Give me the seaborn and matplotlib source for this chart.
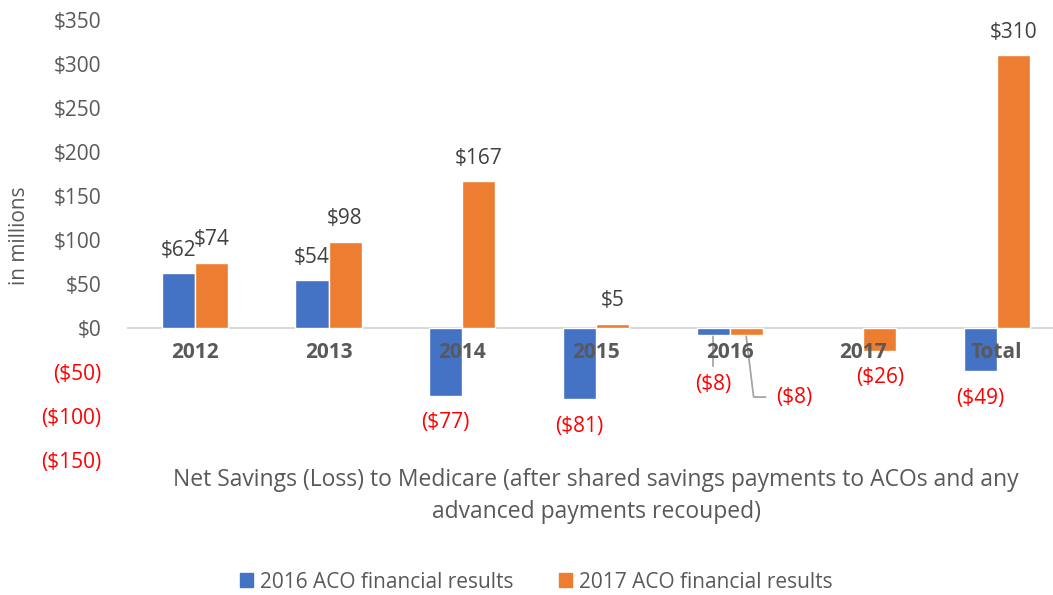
import matplotlib
matplotlib.use("Agg")
import matplotlib.pyplot as plt
import seaborn as sns
import pandas as pd
import numpy as np
from matplotlib.patches import Patch

categories = ["2012", "2013", "2014", "2015", "2016", "2017", "Total"]
series_names = ["2016 ACO financial results", "2017 ACO financial results"]
results_2016 = [62, 54, -77, -81, -8, np.nan, -49]
results_2017 = [74, 98, 167, 5, -8, -26, 310]
ytick_values = [-150, -100, -50, 0, 50, 100, 150, 200, 250, 300, 350]
ytick_labels = ["($150)", "($100)", "($50)", "$0", "$50", "$100", "$150",
                "$200", "$250", "$300", "$350"]
colors = ["#4472C4", "#ED7D31"]
xtitle = ("Net Savings (Loss) to Medicare (after shared savings payments to ACOs and any\n"
          "advanced payments recouped)")

sns.set_theme(style="white")
plt.rcParams["font.family"] = ["Open Sans", "DejaVu Sans"]

FS = 15

df = pd.DataFrame({
    "category": categories * 2,
    "series": [series_names[0]] * len(categories) + [series_names[1]] * len(categories),
    "value": results_2016 + results_2017,
})

fig = plt.figure(figsize=(10.53, 5.95), dpi=100)
ax = fig.add_axes([128 / 1053, 1 - 460 / 595, (1053 - 128) / 1053, 440 / 595])

sns.barplot(data=df, x="category", y="value", hue="series", order=categories,
            hue_order=series_names, palette=colors, width=0.494, gap=0,
            dodge=True, saturation=1, legend=False, ax=ax, errorbar=None)

for s in ["top", "right", "left"]:
    ax.spines[s].set_visible(False)
ax.spines["bottom"].set_position(("data", 0))
ax.spines["bottom"].set_color("#D9D9D9")
ax.spines["bottom"].set_linewidth(1.5)
ax.spines["bottom"].set_zorder(0.5)

ax.set_ylim(-150, 350)
ax.set_xlim(-0.5, 6.42)
ax.set_yticks(ytick_values)
ax.set_yticklabels(ytick_labels)
ax.tick_params(axis="y", length=0, labelsize=FS, pad=19)
ax.set_xticks(range(len(categories)))
ax.set_xticklabels(categories)
ax.tick_params(axis="x", length=0, pad=10, labelsize=FS, labelcolor="#595959")
for lbl, v in zip(ax.get_yticklabels(), ytick_values):
    lbl.set_color("#FF0000" if v < 0 else "#595959")
for lbl in ax.get_xticklabels():
    lbl.set_fontweight("bold")
ax.xaxis.set_zorder(5)

ax.set_xlabel("")
ax.set_ylabel("in millions", fontsize=FS, color="#595959")
ax.yaxis.set_label_coords(-0.106, 0.51)

# data labels
half = 0.494 / 4
for si, vals in enumerate([results_2016, results_2017]):
    for ci, v in enumerate(vals):
        if np.isnan(v):
            continue
        x = ci + (-half if si == 0 else half)
        if categories[ci] == "2016":
            continue
        if v >= 0:
            ax.annotate(f"${v:g}", (x, v), xytext=(0, 23), textcoords="offset pixels",
                        ha="center", va="center", fontsize=FS, color="#404040")
        else:
            ax.annotate(f"(${-v:g})", (x, v), xytext=(0, -27), textcoords="offset pixels",
                        ha="center", va="center", fontsize=FS, color="#FF0000")

# 2016 labels with leader lines
i16 = categories.index("2016")
ax.annotate(f"(${-results_2016[i16]:g})", (i16 - half, results_2016[i16]),
            xytext=(0, -49), textcoords="offset pixels", ha="center", va="center",
            fontsize=FS, color="#FF0000",
            arrowprops=dict(arrowstyle="-", color="#A6A6A6", lw=1.3,
                            shrinkA=3, shrinkB=1))
ax.annotate(f"(${-results_2017[i16]:g})", (i16 + half, results_2017[i16]),
            xytext=(48, -62), textcoords="offset pixels", ha="center", va="center",
            fontsize=FS, color="#FF0000",
            arrowprops=dict(arrowstyle="-", color="#A6A6A6", lw=1.3,
                            connectionstyle="angle,angleA=0,angleB=97,rad=0",
                            shrinkA=5, shrinkB=1))

fig.text(596 / 1053, 1 - 496 / 595, xtitle, ha="center", va="center",
         fontsize=16.5, color="#595959", linespacing=1.45)

handles = [Patch(facecolor=c, edgecolor=c) for c in colors]
fig.legend(handles, series_names, loc="center", bbox_to_anchor=(536 / 1053, 1 - 582 / 595),
           ncol=2, frameon=False, fontsize=FS, handlelength=0.65, handleheight=0.65,
           handletextpad=0.3, columnspacing=2.2, labelcolor="#595959")

fig.savefig("out.png", dpi=100)
